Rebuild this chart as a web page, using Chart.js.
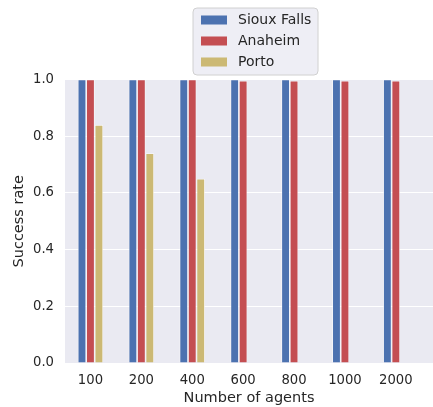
<!DOCTYPE html>
<html>
<head>
<meta charset="utf-8">
<script src="https://cdn.jsdelivr.net/npm/chart.js@4"></script>
<style>
  html, body { margin: 0; padding: 0; background: #ffffff; }
  #wrap { width: 433px; height: 407px; position: relative; }
</style>
</head>
<body>
<div id="wrap"><canvas id="c" width="433" height="407"></canvas></div>
<script>
const categories = ["100", "200", "400", "600", "800", "1000", "2000"];
const siouxFalls = [1.0, 1.0, 1.0, 1.0, 1.0, 1.0, 1.0];
const anaheim = [1.0, 1.0, 1.0, 0.996, 0.996, 0.996, 0.996];
const porto = [0.84, 0.74, 0.65, 0, 0, 0, 0];
const yTicks = [0, 0.2, 0.4, 0.6, 0.8, 1.0];
const seriesNames = ["Sioux Falls", "Anaheim", "Porto"];
const seriesColors = ["#4c72b0", "#c44e52", "#ccb974"];

const FONT = "'DejaVu Sans', sans-serif";
const TXT = "#262626";

function pts(arr) { return arr.map((v, i) => ({ x: i, y: v })); }

const legendBox = {
  id: 'legendBox',
  afterDraw(chart) {
    const ctx = chart.ctx;
    const x = 193, y = 8, w = 125, h = 67, r = 4;
    ctx.save();
    ctx.beginPath();
    ctx.moveTo(x + r, y);
    ctx.arcTo(x + w, y, x + w, y + h, r);
    ctx.arcTo(x + w, y + h, x, y + h, r);
    ctx.arcTo(x, y + h, x, y, r);
    ctx.arcTo(x, y, x + w, y, r);
    ctx.closePath();
    ctx.fillStyle = "rgba(234,234,242,0.8)";
    ctx.fill();
    ctx.strokeStyle = "#d0d0d0";
    ctx.lineWidth = 1;
    ctx.stroke();
    ctx.font = "14px " + FONT;
    ctx.textBaseline = "middle";
    chart.data.datasets.forEach((ds, i) => {
      const cy = 20 + i * 21;
      ctx.fillStyle = ds.backgroundColor;
      ctx.fillRect(201, cy - 4.5, 26, 9);
      ctx.fillStyle = TXT;
      ctx.fillText(ds.label, 238, cy + 0.5);
    });
    ctx.restore();
  }
};

const bgPlugin = {
  id: 'bgPlugin',
  beforeDraw(chart) {
    const { ctx, chartArea: a } = chart;
    ctx.save();
    ctx.fillStyle = "#eaeaf2";
    ctx.fillRect(a.left, a.top, a.right - a.left, a.bottom - a.top);
    ctx.restore();
  }
};

new Chart(document.getElementById('c'), {
  type: 'bar',
  data: {
    datasets: [
      { label: seriesNames[0], data: pts(siouxFalls), backgroundColor: seriesColors[0] },
      { label: seriesNames[1], data: pts(anaheim), backgroundColor: seriesColors[1] },
      { label: seriesNames[2], data: pts(porto), backgroundColor: seriesColors[2] }
    ]
  },
  options: {
    responsive: false,
    animation: false,
    devicePixelRatio: 1,
    layout: { padding: { top: 79.5, right: 0, left: 0, bottom: 0 } },
    datasets: {
      bar: {
        categoryPercentage: 0.5,
        barPercentage: 1.0,
        borderColor: "rgba(255,255,255,0.8)",
        borderWidth: 0.8,
        borderSkipped: 'bottom'
      }
    },
    plugins: {
      legend: { display: false },
      tooltip: { enabled: false }
    },
    scales: {
      x: {
        type: 'linear',
        min: -0.5,
        max: 6.73,
        offset: false,
        afterBuildTicks(scale) {
          scale.ticks = categories.map((c, i) => ({ value: i }));
        },
        afterFit(scale) { scale.height = 44; },
        grid: { display: false, drawTicks: false },
        border: { display: false },
        ticks: {
          color: TXT,
          font: { family: FONT, size: 13.2 },
          padding: 10,
          maxRotation: 0,
          autoSkip: false,
          callback: (v) => categories[v] !== undefined ? categories[v] : ''
        },
        title: {
          display: true,
          text: 'Number of agents',
          color: TXT,
          font: { family: FONT, size: 14.5 },
          padding: { top: 0, bottom: 0 }
        }
      },
      y: {
        min: 0,
        max: 1.0,
        afterBuildTicks(scale) {
          scale.ticks = yTicks.map(v => ({ value: v }));
        },
        afterFit(scale) { scale.width = 65; },
        grid: { color: "#ffffff", lineWidth: 1, drawTicks: false },
        border: { display: false },
        ticks: {
          color: TXT,
          font: { family: FONT, size: 13.2 },
          padding: 11,
          callback: (v) => Number(v).toFixed(1)
        },
        title: {
          display: true,
          text: 'Success rate',
          color: TXT,
          font: { family: FONT, size: 14.5 },
          padding: { top: 11, bottom: 0 }
        }
      }
    }
  },
  plugins: [bgPlugin, legendBox]
});
</script>
</body>
</html>
